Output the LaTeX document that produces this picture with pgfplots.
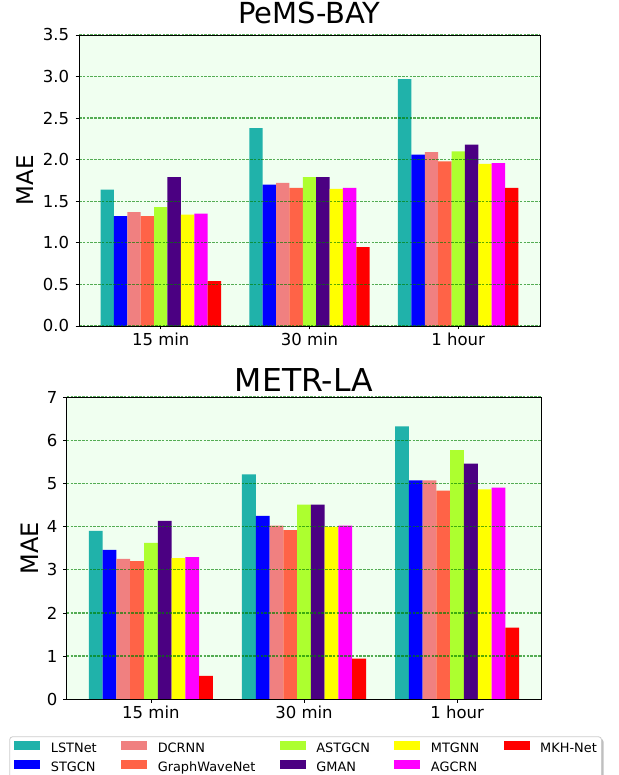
\documentclass[border=0pt]{standalone}
\usepackage{fontspec}
\setmainfont{DejaVu Sans}
\usepackage{pgfplots}
\pgfplotsset{compat=1.18}
\usetikzlibrary{shadows}

\definecolor{lstnet}{RGB}{32,178,170}
\definecolor{stgcn}{RGB}{0,0,255}
\definecolor{dcrnn}{RGB}{240,128,128}
\definecolor{gwn}{RGB}{255,99,71}
\definecolor{astgcn}{RGB}{173,255,47}
\definecolor{gman}{RGB}{75,0,130}
\definecolor{mtgnn}{RGB}{255,255,0}
\definecolor{agcrn}{RGB}{255,0,255}
\definecolor{mkh}{RGB}{255,0,0}
\definecolor{bgc}{RGB}{240,255,240}
\definecolor{gridc}{RGB}{0,128,0}
\definecolor{legedge}{RGB}{204,204,204}

\pgfplotsset{
  maeaxis/.style={
    scale only axis,
    xmin=-0.55, xmax=2.55, ymin=0,
    bar width=0.09,
    xtick={0,1,2}, xticklabels={15 min,30 min,1 hour},
    tick align=outside, xtick pos=bottom, ytick pos=left,
    major tick length=3.5pt,
    tick style={black, line width=0.8pt},
    axis line style={black, line width=0.8pt},
    axis background/.style={fill=bgc},
    ymajorgrids,
    grid style={gridc, opacity=0.65, line width=1.3pt, dash pattern=on 2.6pt off 1.2pt},
    axis on top,
    tick label style={font=\fontsize{16.5}{18}\selectfont},
    /pgf/number format/assume math mode=true,
    xticklabel style={anchor=base, yshift=-15.6pt},
    ylabel={MAE},
  },
  mbar/.style={ybar, draw=none, fill=#1},
}

\begin{document}
\begin{tikzpicture}
\useasboundingbox (0,0) rectangle (618pt,775pt);

% PeMS-BAY
\begin{axis}[maeaxis,
  at={(79pt,449pt)}, anchor=south west,
  width=461pt, height=291pt,
  ymax=3.5, ytick={0,0.5,...,3.5},
  yticklabel style={anchor=east, inner sep=0pt, xshift=-6.3pt,
    /pgf/number format/.cd, fixed, fixed zerofill, precision=1},
  title={PeMS-BAY},
  title style={at={(0.5,1)}, anchor=base, yshift=5pt, inner sep=0pt,
    font=\fontsize{29}{32}\selectfont},
  ylabel style={at={(axis description cs:-0.0991,0.5)}, anchor=base, inner sep=0pt,
    font=\fontsize{23}{26}\selectfont},
]
\addplot[mbar=lstnet, bar shift=-0.36] coordinates {(0,1.64) (1,2.38) (2,2.97)};
\addplot[mbar=stgcn,  bar shift=-0.27] coordinates {(0,1.32) (1,1.70) (2,2.06)};
\addplot[mbar=dcrnn,  bar shift=-0.18] coordinates {(0,1.37) (1,1.72) (2,2.09)};
\addplot[mbar=gwn,    bar shift=-0.09] coordinates {(0,1.32) (1,1.66) (2,1.98)};
\addplot[mbar=astgcn, bar shift=0]     coordinates {(0,1.43) (1,1.79) (2,2.10)};
\addplot[mbar=gman,   bar shift=0.09]  coordinates {(0,1.79) (1,1.79) (2,2.18)};
\addplot[mbar=mtgnn,  bar shift=0.18]  coordinates {(0,1.34) (1,1.65) (2,1.95)};
\addplot[mbar=agcrn,  bar shift=0.27]  coordinates {(0,1.35) (1,1.66) (2,1.96)};
\addplot[mbar=mkh,    bar shift=0.36]  coordinates {(0,0.54) (1,0.95) (2,1.66)};
\end{axis}

% METR-LA
\begin{axis}[maeaxis,
  at={(66.7pt,75.7pt)}, anchor=south west,
  width=474.6pt, height=302.3pt,
  ymax=7, ytick={0,1,...,7},
  yticklabel style={anchor=east, inner sep=0pt, xshift=-5.7pt},
  title={METR-LA},
  title style={at={(0.5,1)}, anchor=base, yshift=-1pt, inner sep=0pt,
    font=\fontsize{31.5}{34}\selectfont},
  ylabel style={at={(axis description cs:-0.0598,0.5)}, anchor=base, inner sep=0pt,
    font=\fontsize{24}{27}\selectfont},
  legend columns=5,
  legend cell align=left,
  % plain colour patches, drawn at the basic layer so the frame's shadow is not repeated
  legend image code/.code={%
    \begin{scope}[#1, sharp corners]
      \pgfpathrectangle{\pgfpoint{0pt}{-0.2pt}}{\pgfpoint{26pt}{9.3pt}}%
      \pgfusepath{fill}%
    \end{scope}},
  legend style={at={(axis description cs:-0.121,-0.1225)}, anchor=north west,
    draw=legedge, line width=0.8pt, rounded corners=3pt, fill=white,
    drop shadow={shadow xshift=2pt, shadow yshift=-2pt, fill=gray, opacity=0.5},
    inner xsep=4.7pt, inner ysep=3.8pt,
    font=\fontsize{12.9}{14}\selectfont,
    nodes={inner sep=0pt, text height=9.2pt, text depth=2.6pt},
    row sep=4pt,
    /tikz/every odd column/.style={column sep=10.5pt},
    /tikz/every even column/.style={column sep=24.5pt}},
]
\addplot[mbar=lstnet, bar shift=-0.36, forget plot] coordinates {(0,3.90) (1,5.21) (2,6.32)};
\addplot[mbar=stgcn,  bar shift=-0.27, forget plot] coordinates {(0,3.46) (1,4.25) (2,5.07)};
\addplot[mbar=dcrnn,  bar shift=-0.18, forget plot] coordinates {(0,3.25) (1,4.02) (2,5.07)};
\addplot[mbar=gwn,    bar shift=-0.09, forget plot] coordinates {(0,3.20) (1,3.92) (2,4.83)};
\addplot[mbar=astgcn, bar shift=0,     forget plot] coordinates {(0,3.62) (1,4.51) (2,5.77)};
\addplot[mbar=gman,   bar shift=0.09,  forget plot] coordinates {(0,4.13) (1,4.51) (2,5.46)};
\addplot[mbar=mtgnn,  bar shift=0.18,  forget plot] coordinates {(0,3.27) (1,3.99) (2,4.86)};
\addplot[mbar=agcrn,  bar shift=0.27,  forget plot] coordinates {(0,3.29) (1,4.02) (2,4.90)};
\addplot[mbar=mkh,    bar shift=0.36,  forget plot] coordinates {(0,0.54) (1,0.94) (2,1.66)};
% legend laid out row by row so that it reads column by column
\addlegendimage{fill=lstnet}
\addlegendimage{fill=dcrnn}
\addlegendimage{fill=astgcn}
\addlegendimage{fill=mtgnn}
\addlegendimage{fill=mkh}
\addlegendimage{fill=stgcn}
\addlegendimage{fill=gwn}
\addlegendimage{fill=gman}
\addlegendimage{fill=agcrn}
\legend{LSTNet,DCRNN,ASTGCN,MTGNN,MKH-Net,STGCN,GraphWaveNet,GMAN,AGCRN}
\end{axis}
\end{tikzpicture}
\end{document}
